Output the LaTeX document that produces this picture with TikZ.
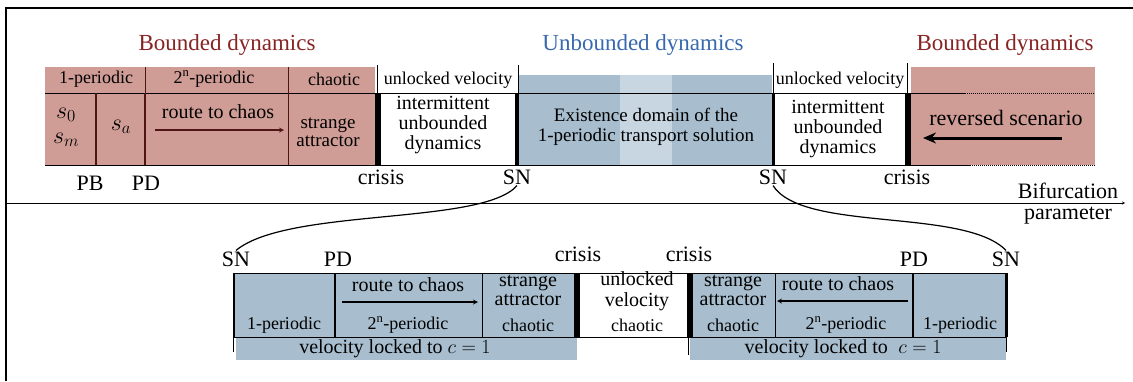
\RequirePackage{fix-cm}
\documentclass[tikz,border=0pt]{standalone}
\usepackage{amsmath}
\usepackage{fontspec}
\setmainfont{Liberation Serif}
\usetikzlibrary{positioning,arrows.meta}
\definecolor{pinkbg}{RGB}{208,157,150}
\definecolor{bluebg}{RGB}{168,190,206}
\definecolor{bluelt}{RGB}{200,214,225}
\definecolor{darkred}{RGB}{135,35,35}
\definecolor{ttlblue}{RGB}{55,105,175}
\definecolor{maroon}{RGB}{80,20,20}

\begin{document}
\begin{tikzpicture}[x=1pt,y=-1pt,>=stealth,
  every node/.style={inner sep=1pt},
  ttl/.style={font=\fontsize{23}{25}\selectfont},
  hdr/.style={font=\fontsize{18}{20}\selectfont},
  txt/.style={font=\fontsize{20}{20}\selectfont,align=center},
  lbl/.style={font=\fontsize{22}{24}\selectfont},
  bar/.style={line width=6pt},
  sep/.style={line width=2pt}]
\useasboundingbox (0,0) rectangle (1133,381);
\draw[line width=2pt] (6,381) -- (6,8) -- (1133,8);

% upper band
\fill[pinkbg] (45,67) rectangle (375,165);
\fill[bluebg] (518,75) rectangle (772,165);
\fill[bluelt] (620,75) rectangle (672,165);
\fill[pinkbg] (911,67) rectangle (1095,165);
\draw (45,93) -- (965,93) (45,165) -- (970,165);
\draw[densely dotted,line width=1pt] (965,93) -- (1095,93) (970,165) -- (1095,165);
\draw[maroon] (145,67) -- (145,93) (288,67) -- (288,165);
\draw[maroon,sep] (96,93) -- (96,165) (145,93) -- (145,165);
\draw (377,65) -- (377,93) (518,65) -- (518,93) (773,63) -- (773,93) (907,63) -- (907,93);
\draw[bar] (378,93) -- (378,165);
\draw[line width=3.5pt] (517,93) -- (517,165);
\draw[line width=3pt] (773,93) -- (773,165);
\draw[bar] (908,93) -- (908,165);

\node[ttl,text=darkred] (B0) at (227,45) {Bounded dynamics};
\node[ttl,text=ttlblue] (U0) at (643,45) {Unbounded dynamics};
\node[ttl,text=darkred] (B1) at (1005,45) {Bounded dynamics};

\node[hdr] (H0) at (96,79) {1-periodic};
\node[hdr] (H1) at (214,79) {2\textsuperscript{n}-periodic};
\node[hdr] (H2) at (334,79) {chaotic};
\node[hdr] (H3) at (448,80) {unlocked velocity};
\node[hdr] (H4) at (840,80) {unlocked velocity};

\node[txt,font=\fontsize{24}{24}\selectfont] (S0) at (66,115) {$s_0$};
\node[txt,font=\fontsize{24}{24}\selectfont] (S1) at (66,140) {$s_m$};
\node[txt,font=\fontsize{24}{24}\selectfont] (S2) at (121,127) {$s_a$};
\node[txt] (R0) at (218,112) {route to chaos};
\coordinate (r0) at (155,130);
\coordinate (r1) at (284,130);
\draw[->,maroon,line width=1.2pt] (r0) -- (r1);
\node[txt,font=\fontsize{19}{18}\selectfont] (A0) at (328,132) {strange\\attractor};
\node[txt] (I0) at (443,125) {intermittent\\unbounded\\dynamics};
\node[txt,font=\fontsize{19}{20}\selectfont] (E0) at (646,127) {Existence domain of the\\1-periodic transport solution};
\node[txt] (I1) at (838,129) {intermittent\\unbounded\\dynamics};
\node[txt,font=\fontsize{22}{22}\selectfont] (V0) at (1006,118) {reversed scenario};
\coordinate (v0) at (1062,138);
\coordinate (v1) at (923,138);
\draw[-{Stealth[length=13pt,width=11pt]},line width=3pt] (v0) -- (v1);

% labels on the axis
\node[lbl] (PB) at (90,183) {PB};
\node[lbl] (PD0) at (146,183) {PD};
\node[lbl] (C0) at (381,177) {crisis};
\node[lbl] (SN0) at (517,177) {SN};
\node[lbl] (SN1) at (773,177) {SN};
\node[lbl] (C1) at (907,177) {crisis};

\coordinate (ax0) at (6,203);
\coordinate (ax1) at (1125,203);
\draw[->] (ax0) -- (ax1);
\node[lbl] (P0) at (1068,191) {Bifurcation};
\node[lbl] (P1) at (1068,216) {parameter};

% lower band
\node[lbl] (SN2) at (236,259) {SN};
\node[lbl] (PD1) at (338,259) {PD};
\node[lbl] (C2) at (578,254) {crisis};
\node[lbl] (C3) at (689,254) {crisis};
\node[lbl] (PD2) at (914,259) {PD};
\node[lbl] (SN3) at (1006,259) {SN};

\draw[line width=1.2pt] (SN0.south) .. controls +(-35,40) and +(52,-43) .. (SN2.north);
\draw[line width=1.2pt] (SN1.south) .. controls +(30,47) and +(-42,-43) .. (SN3.north);

\fill[bluebg] (233,273) rectangle (577,337);
\fill[bluebg] (693,273) rectangle (1007,337);
\fill[bluebg] (236,337) rectangle (577,360);
\fill[bluebg] (690,337) rectangle (1006,360);
\draw (233,273) -- (1007,273) (233,337) -- (1007,337);
\draw[sep] (234,273) -- (234,337) (335,273) -- (335,337) (913,273) -- (913,337);
\draw (482,273) -- (482,337) (775,273) -- (775,337);
\draw[bar] (577,273) -- (577,337);
\draw[bar] (690,273) -- (690,337);
\draw[line width=3pt] (1006,273) -- (1006,337);
\draw (233,337) -- (233,352) (688,337) -- (688,355) (1006,337) -- (1006,352);

\node[hdr] (L0) at (284,325) {1-periodic};
\node[txt] (L1) at (408,285) {route to chaos};
\coordinate (l0) at (342,302);
\coordinate (l1) at (478,302);
\draw[->,line width=1.2pt] (l0) -- (l1);
\node[hdr] (L2) at (408,325) {2\textsuperscript{n}-periodic};
\node[txt,font=\fontsize{20}{19}\selectfont] (L3) at (528,290) {strange\\attractor};
\node[hdr] (L4) at (528,325) {chaotic};
\node[txt,font=\fontsize{20}{21}\selectfont] (W0) at (637,291) {unlocked\\velocity};
\node[hdr] (W1) at (637,325) {chaotic};
\node[txt,font=\fontsize{20}{19}\selectfont] (M0) at (733,290) {strange\\attractor};
\node[hdr] (M1) at (733,325) {chaotic};
\node[txt] (M2) at (838,284) {route to chaos};
\coordinate (m0) at (908,301);
\coordinate (m1) at (777,301);
\draw[->,line width=1.2pt] (m0) -- (m1);
\node[hdr] (M3) at (846,325) {2\textsuperscript{n}-periodic};
\node[hdr] (M4) at (960,325) {1-periodic};
\node[txt,font=\fontsize{20}{20}\selectfont] (K0) at (395,349) {velocity locked to $c=1$};
\node[txt,font=\fontsize{20}{20}\selectfont] (K1) at (843,349) {velocity locked to \;$c=1$};
\end{tikzpicture}
\end{document}
